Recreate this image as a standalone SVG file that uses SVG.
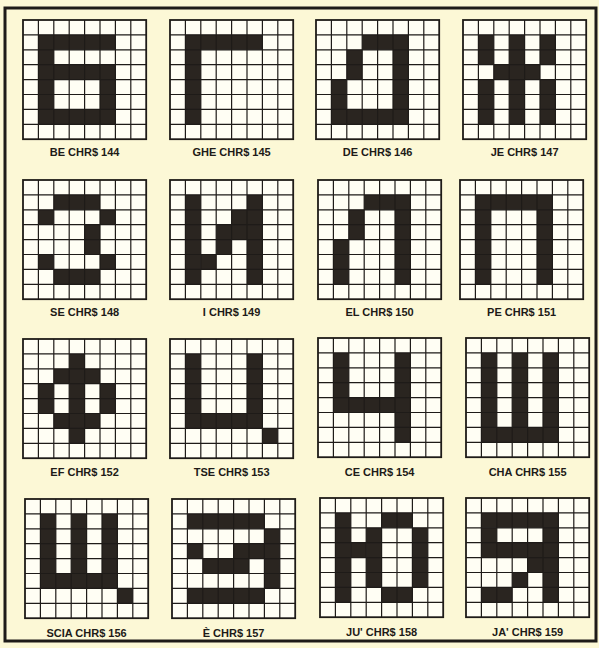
<svg xmlns="http://www.w3.org/2000/svg" width="599" height="648" viewBox="0 0 599 648">
<defs>
<style>
.bg{fill:#fcf8d6}
.frame{fill:none;stroke:#1e1b18;stroke-width:3}
.cellbg{fill:#fffef4}
.on{fill:#2a2520}
.grid{fill:none;stroke:#1e1b18;stroke-width:1.2}
.edge{fill:none;stroke:#1e1b18;stroke-width:1.8}
.lbl{font-family:"Liberation Sans",Arial,sans-serif;font-weight:bold;font-size:11px;fill:#1e1b18;text-anchor:middle}
</style>
<path id="lines" class="grid" d="M15.4 0V119.2M30.8 0V119.2M46.2 0V119.2M61.6 0V119.2M77 0V119.2M92.4 0V119.2M107.8 0V119.2M0 14.9H123.2M0 29.8H123.2M0 44.7H123.2M0 59.6H123.2M0 74.5H123.2M0 89.4H123.2M0 104.3H123.2"/>
<rect id="back" class="cellbg" x="0" y="0" width="123.2" height="119.2"/>
<rect id="outer" class="edge" x="0" y="0" width="123.2" height="119.2"/>
</defs>
<rect class="bg" x="0" y="0" width="599" height="648"/>
<rect class="frame" x="5" y="8" width="591" height="633"/>

<g id="be" transform="translate(23,20)">
<use href="#back"/>
<rect class="on" x="15.4" y="14.9" width="15.4" height="89.4"/>
<rect class="on" x="15.4" y="14.9" width="77" height="14.9"/>
<rect class="on" x="15.4" y="44.7" width="77" height="14.9"/>
<rect class="on" x="77" y="44.7" width="15.4" height="59.6"/>
<rect class="on" x="15.4" y="89.4" width="77" height="14.9"/>
<use href="#lines"/><use href="#outer"/>
<text class="lbl" x="61.6" y="136">BE CHR$ 144</text>
</g>

<g id="ghe" transform="translate(170,20)">
<use href="#back"/>
<rect class="on" x="15.4" y="14.9" width="77" height="14.9"/>
<rect class="on" x="15.4" y="14.9" width="15.4" height="89.4"/>
<use href="#lines"/><use href="#outer"/>
<text class="lbl" x="61.6" y="136">GHE CHR$ 145</text>
</g>

<g id="de" transform="translate(316,20)">
<use href="#back"/>
<rect class="on" x="46.2" y="14.9" width="46.2" height="14.9"/>
<rect class="on" x="77" y="14.9" width="15.4" height="89.4"/>
<rect class="on" x="30.8" y="29.8" width="15.4" height="29.8"/>
<rect class="on" x="15.4" y="59.6" width="15.4" height="44.7"/>
<rect class="on" x="15.4" y="89.4" width="77" height="14.9"/>
<use href="#lines"/><use href="#outer"/>
<text class="lbl" x="61.6" y="136">DE CHR$ 146</text>
</g>

<g id="je" transform="translate(463,20)">
<use href="#back"/>
<rect class="on" x="15.4" y="14.9" width="15.4" height="29.8"/>
<rect class="on" x="15.4" y="59.6" width="15.4" height="44.7"/>
<rect class="on" x="46.2" y="14.9" width="15.4" height="89.4"/>
<rect class="on" x="77" y="14.9" width="15.4" height="29.8"/>
<rect class="on" x="77" y="59.6" width="15.4" height="44.7"/>
<rect class="on" x="30.8" y="44.7" width="46.2" height="14.9"/>
<use href="#lines"/><use href="#outer"/>
<text class="lbl" x="61.6" y="136">JE CHR$ 147</text>
</g>

<g id="se" transform="translate(23,180)">
<use href="#back"/>
<rect class="on" x="30.8" y="14.9" width="46.2" height="14.9"/>
<rect class="on" x="15.4" y="29.8" width="15.4" height="14.9"/>
<rect class="on" x="77" y="29.8" width="15.4" height="14.9"/>
<rect class="on" x="61.6" y="44.7" width="15.4" height="29.8"/>
<rect class="on" x="15.4" y="74.5" width="15.4" height="14.9"/>
<rect class="on" x="77" y="74.5" width="15.4" height="14.9"/>
<rect class="on" x="30.8" y="89.4" width="46.2" height="14.9"/>
<use href="#lines"/><use href="#outer"/>
<text class="lbl" x="61.6" y="136">SE CHR$ 148</text>
</g>

<g id="i" transform="translate(170,180)">
<use href="#back"/>
<rect class="on" x="15.4" y="14.9" width="15.4" height="89.4"/>
<rect class="on" x="77" y="14.9" width="15.4" height="89.4"/>
<rect class="on" x="61.6" y="29.8" width="15.4" height="29.8"/>
<rect class="on" x="46.2" y="44.7" width="15.4" height="29.8"/>
<rect class="on" x="30.8" y="74.5" width="15.4" height="14.9"/>
<use href="#lines"/><use href="#outer"/>
<text class="lbl" x="61.6" y="136">I CHR$ 149</text>
</g>

<g id="el" transform="translate(318,180)">
<use href="#back"/>
<rect class="on" x="46.2" y="14.9" width="46.2" height="14.9"/>
<rect class="on" x="77" y="14.9" width="15.4" height="89.4"/>
<rect class="on" x="30.8" y="29.8" width="15.4" height="29.8"/>
<rect class="on" x="15.4" y="59.6" width="15.4" height="44.7"/>
<use href="#lines"/><use href="#outer"/>
<text class="lbl" x="61.6" y="136">EL CHR$ 150</text>
</g>

<g id="pe" transform="translate(460,180)">
<use href="#back"/>
<rect class="on" x="15.4" y="14.9" width="77" height="14.9"/>
<rect class="on" x="15.4" y="14.9" width="15.4" height="89.4"/>
<rect class="on" x="77" y="14.9" width="15.4" height="89.4"/>
<use href="#lines"/><use href="#outer"/>
<text class="lbl" x="61.6" y="136">PE CHR$ 151</text>
</g>

<g id="ef" transform="translate(23,339)">
<use href="#back"/>
<rect class="on" x="46.2" y="14.9" width="15.4" height="89.4"/>
<rect class="on" x="30.8" y="29.8" width="46.2" height="14.9"/>
<rect class="on" x="30.8" y="74.5" width="46.2" height="14.9"/>
<rect class="on" x="15.4" y="44.7" width="15.4" height="29.8"/>
<rect class="on" x="77" y="44.7" width="15.4" height="29.8"/>
<use href="#lines"/><use href="#outer"/>
<text class="lbl" x="61.6" y="137">EF CHR$ 152</text>
</g>

<g id="tse" transform="translate(170,339)">
<use href="#back"/>
<rect class="on" x="15.4" y="14.9" width="15.4" height="74.5"/>
<rect class="on" x="77" y="14.9" width="15.4" height="74.5"/>
<rect class="on" x="15.4" y="74.5" width="77" height="14.9"/>
<rect class="on" x="92.4" y="89.4" width="15.4" height="14.9"/>
<use href="#lines"/><use href="#outer"/>
<text class="lbl" x="61.6" y="137">TSE CHR$ 153</text>
</g>

<g id="ce" transform="translate(318,338)">
<use href="#back"/>
<rect class="on" x="15.4" y="14.9" width="15.4" height="59.6"/>
<rect class="on" x="77" y="14.9" width="15.4" height="89.4"/>
<rect class="on" x="15.4" y="59.6" width="77" height="14.9"/>
<use href="#lines"/><use href="#outer"/>
<text class="lbl" x="61.6" y="138">CE CHR$ 154</text>
</g>

<g id="cha" transform="translate(466,338)">
<use href="#back"/>
<rect class="on" x="15.4" y="14.9" width="15.4" height="89.4"/>
<rect class="on" x="46.2" y="14.9" width="15.4" height="89.4"/>
<rect class="on" x="77" y="14.9" width="15.4" height="89.4"/>
<rect class="on" x="15.4" y="89.4" width="77" height="14.9"/>
<use href="#lines"/><use href="#outer"/>
<text class="lbl" x="61.6" y="138">CHA CHR$ 155</text>
</g>

<g id="scia" transform="translate(25,499)">
<use href="#back"/>
<rect class="on" x="15.4" y="14.9" width="15.4" height="74.5"/>
<rect class="on" x="46.2" y="14.9" width="15.4" height="74.5"/>
<rect class="on" x="77" y="14.9" width="15.4" height="74.5"/>
<rect class="on" x="15.4" y="74.5" width="77" height="14.9"/>
<rect class="on" x="92.4" y="89.4" width="15.4" height="14.9"/>
<use href="#lines"/><use href="#outer"/>
<text class="lbl" x="61.6" y="138">SCIA CHR$ 156</text>
</g>

<g id="e" transform="translate(172,499)">
<use href="#back"/>
<rect class="on" x="15.4" y="14.9" width="77" height="14.9"/>
<rect class="on" x="92.4" y="29.8" width="15.4" height="59.6"/>
<rect class="on" x="15.4" y="44.7" width="15.4" height="14.9"/>
<rect class="on" x="61.6" y="44.7" width="30.8" height="14.9"/>
<rect class="on" x="30.8" y="59.6" width="46.2" height="14.9"/>
<rect class="on" x="15.4" y="89.4" width="77" height="14.9"/>
<use href="#lines"/><use href="#outer"/>
<text class="lbl" x="61.6" y="138">È CHR$ 157</text>
</g>

<g id="ju" transform="translate(320,498)">
<use href="#back"/>
<rect class="on" x="15.4" y="14.9" width="15.4" height="89.4"/>
<rect class="on" x="61.6" y="14.9" width="30.8" height="14.9"/>
<rect class="on" x="46.2" y="29.8" width="15.4" height="59.6"/>
<rect class="on" x="92.4" y="29.8" width="15.4" height="59.6"/>
<rect class="on" x="30.8" y="44.7" width="15.4" height="14.9"/>
<rect class="on" x="61.6" y="89.4" width="30.8" height="14.9"/>
<use href="#lines"/><use href="#outer"/>
<text class="lbl" x="61.6" y="138">JU' CHR$ 158</text>
</g>

<g id="ja" transform="translate(466,498)">
<use href="#back"/>
<rect class="on" x="15.4" y="14.9" width="77" height="14.9"/>
<rect class="on" x="15.4" y="29.8" width="15.4" height="29.8"/>
<rect class="on" x="15.4" y="44.7" width="77" height="14.9"/>
<rect class="on" x="77" y="14.9" width="15.4" height="89.4"/>
<rect class="on" x="61.6" y="59.6" width="15.4" height="14.9"/>
<rect class="on" x="46.2" y="74.5" width="15.4" height="14.9"/>
<rect class="on" x="15.4" y="89.4" width="30.8" height="14.9"/>
<use href="#lines"/><use href="#outer"/>
<text class="lbl" x="61.6" y="138">JA' CHR$ 159</text>
</g>

<g id="connectors"/>
</svg>
